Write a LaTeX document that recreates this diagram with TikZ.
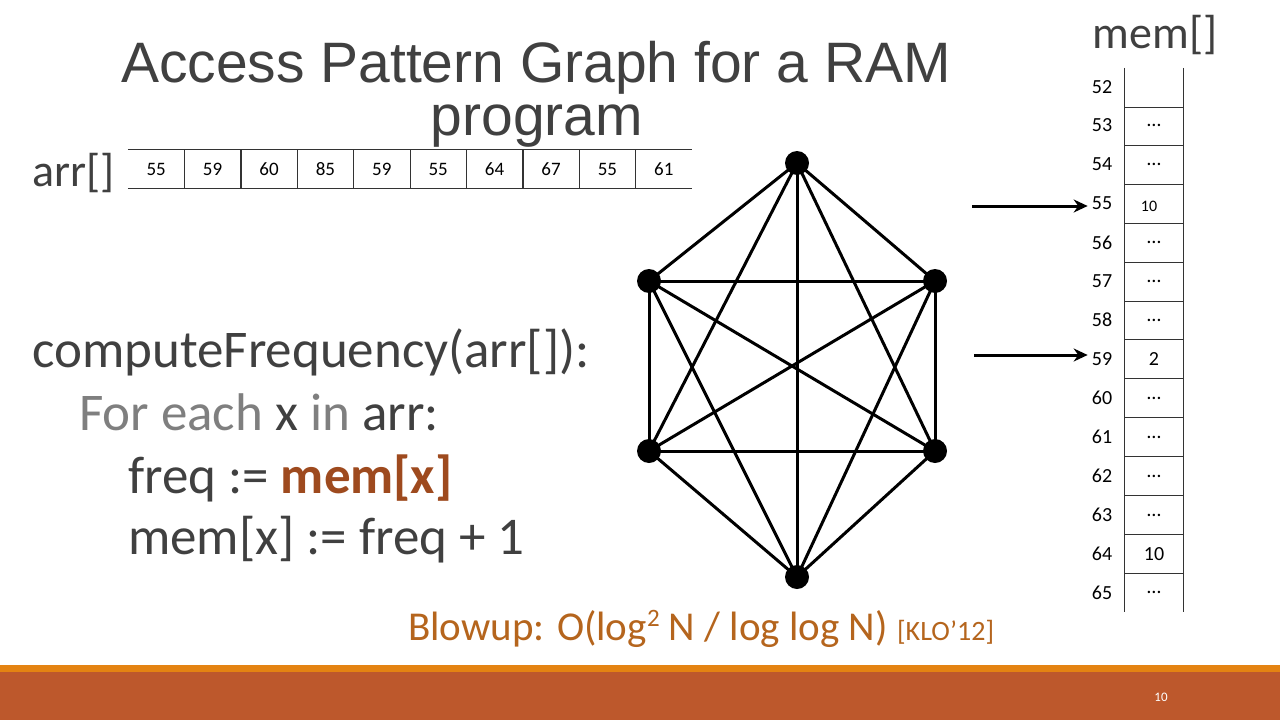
\documentclass[tikz,border=0pt]{standalone}
\usepackage{fontspec}
\setmainfont{Carlito}
\newfontfamily\titlefont{Liberation Sans}
\usetikzlibrary{arrows.meta}
\definecolor{txt}{HTML}{404040}
\definecolor{lightg}{HTML}{7F7F7F}
\definecolor{memred}{HTML}{9E4A1E}
\definecolor{blowc}{HTML}{B5651D}
\definecolor{bandor}{HTML}{E48312}
\definecolor{bandrust}{HTML}{BD582C}
\tikzset{
  vtx/.style={circle, fill=black, inner sep=0pt, minimum width=24pt, minimum height=22pt},
  edge/.style={line width=3pt, black},
  arrcell/.style={minimum width=56.4pt, minimum height=38pt, inner sep=0pt, font=\fontsize{19}{22}\selectfont},
  memcell/.style={minimum width=59pt, minimum height=39pt, inner sep=0pt, font=\fontsize{20}{22}\selectfont},
  memlab/.style={inner sep=0pt, font=\fontsize{20}{22}\selectfont},
  codeline/.style={anchor=base west, inner sep=0pt, text=txt, font=\fontsize{53}{60}\selectfont},
  tline/.style={line width=1.2pt, black!80},
  ptr/.style={line width=3pt, shorten >=4pt, -{Stealth[length=14pt, width=13pt]}},
}
\begin{document}
\begin{tikzpicture}[x=1pt, y=-1pt]
\useasboundingbox (0,0) rectangle (1280,720);
\fill[white] (0,0) rectangle (1280,720);
% bottom band
\fill[bandor] (0,665) rectangle (1280,672);
\fill[bandrust] (0,672) rectangle (1280,720);
\node[text=white, font=\fontsize{13}{15}\selectfont, inner sep=0pt] (pgnum) at (1161,697) {10};
% title
\node[anchor=base, inner sep=0pt, text=txt, font=\titlefont\fontsize{57}{60}\selectfont] (title1) at (536,82) {Access Pattern Graph for a RAM};
\node[anchor=base, inner sep=0pt, text=txt, font=\titlefont\fontsize{57}{60}\selectfont] (title2) at (537,135) {program};
% arr label and table
\node[anchor=base west, inner sep=0pt, text=txt, font=\fontsize{46}{50}\selectfont] (arrlab) at (32,186) {arr[]};
\foreach \v [count=\i] in {55,59,60,85,59,55,64,67,55,61}{
  \node[arrcell] (a\i) at ({128+56.4*(\i-0.5)},169) {\v};
}
\draw[tline] (a1.north west) -- (a10.north east);
\draw[tline] (a1.south west) -- (a10.south east);
\foreach \i in {1,...,9}{
  \draw[tline] (a\i.north east) -- (a\i.south east);
}
% code
\node[codeline] (c1) at (32,367) {computeFrequency(arr[]):};
\node[codeline] (c2) at (79,430) {{\color{lightg}For each} x {\color{lightg}in} arr:};
\node[codeline] (c3) at (128,493) {freq := {\bfseries\color{memred}mem[x]}};
\node[codeline] (c4) at (128,554) {mem[x] := freq + 1};
% blowup
\node[anchor=base west, inner sep=0pt, text=blowc] (blow) at (408,640) {\fontsize{41}{46}\selectfont Blowup: O(log\raisebox{14pt}{\fontsize{25}{28}\selectfont 2} N / log log N) \fontsize{28}{32}\selectfont [KLO’12]};
% graph
\node[vtx] (g1) at (797,163) {};
\node[vtx] (g2) at (649,281) {};
\node[vtx] (g3) at (935,281) {};
\node[vtx] (g4) at (649,451) {};
\node[vtx] (g5) at (935,451) {};
\node[vtx] (g6) at (797,577) {};
\foreach \a/\b in {g1/g2,g1/g3,g1/g4,g1/g5,g1/g6,g2/g3,g2/g4,g2/g5,g2/g6,g3/g4,g3/g5,g3/g6,g4/g5,g4/g6,g5/g6}{
  \draw[edge] (\a.center) -- (\b.center);
}
% mem
\node[anchor=base, inner sep=0pt, text=txt, font=\fontsize{46}{50}\selectfont] (memlab) at (1155,48) {mem[]};
\foreach \n/\c/\yy in {52//87.5,53/…/125.5,54/…/164.5,55//203.5,56/…/242.5,57/…/281.5,58/…/320,59/2/359,60/…/398,61/…/437,62/…/476,63/…/515,64/10/554,65/…/592.5}{
  \node[memcell] (m\n) at (1154,\yy) {\c};
  \node[memlab] (l\n) at (1102,\yy) {\n};
}
\node[inner sep=0pt, font=\fontsize{16}{18}\selectfont] (v55) at (1149,206) {10};
\draw[tline] (m52.north west) -- (m65.south west);
\draw[tline] (m52.north east) -- (m65.south east);
\foreach \n in {52,...,64}{
  \draw[tline] (m\n.south west) -- (m\n.south east);
}
% pointers
\coordinate (p1) at (972,206);
\coordinate (p2) at (974,355);
\draw[ptr] (p1) -- (l55.west |- p1);
\draw[ptr] (p2) -- (l59.west |- p2);
\end{tikzpicture}
\end{document}
